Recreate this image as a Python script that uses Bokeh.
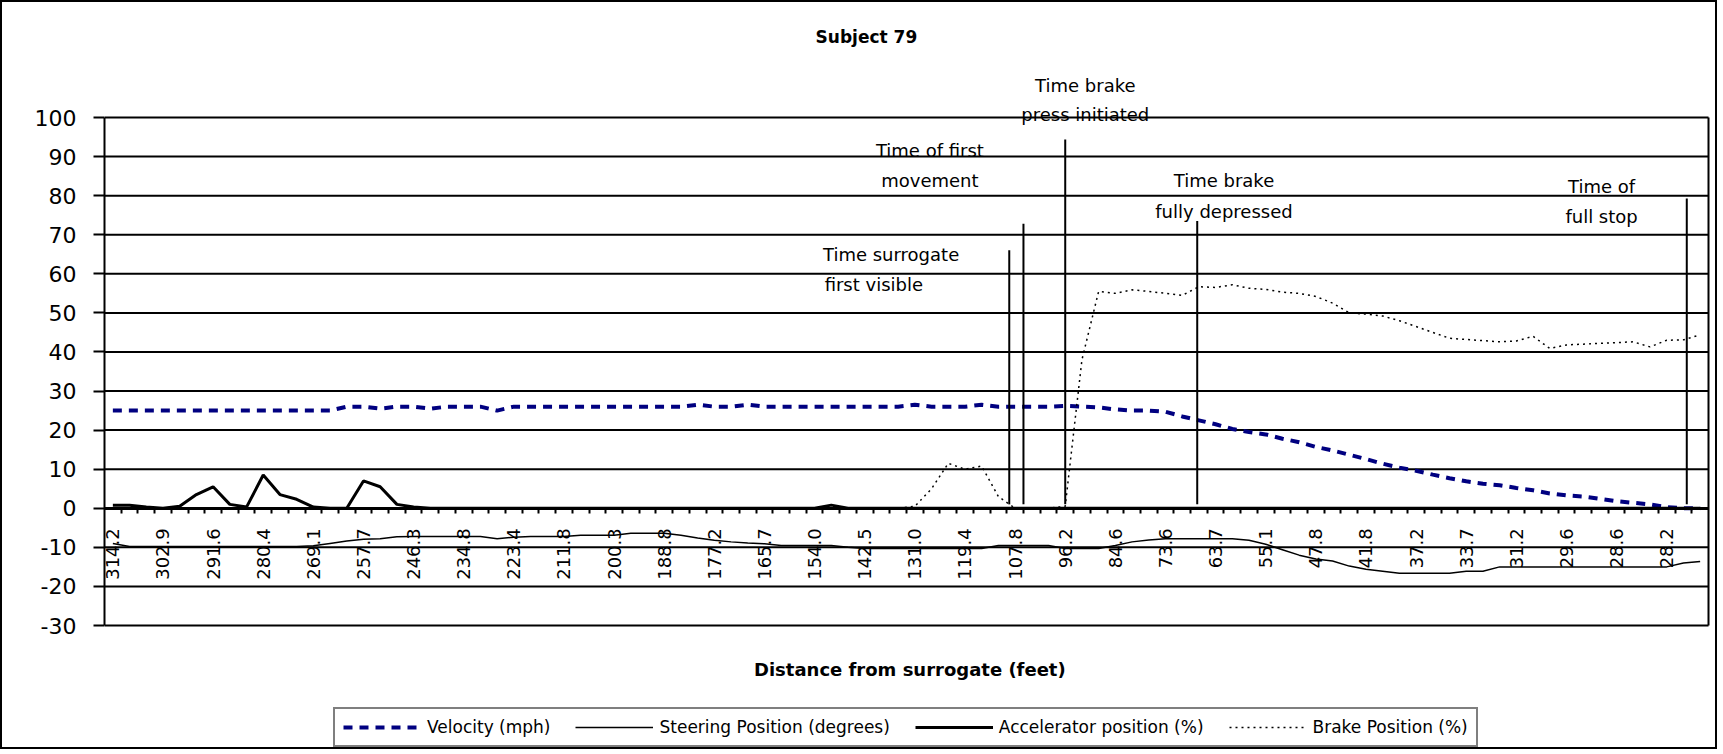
import math
import numpy as np
from bokeh.plotting import figure
from bokeh.models import (Range1d, LinearAxis, FixedTicker, Label, Legend,
                          LegendItem)
from bokeh.embed import file_html
from bokeh.resources import INLINE

FONT = "DejaVu Sans"

# ---------------- data ----------------
chart_title = "Subject 79"
x_title = "Distance from surrogate (feet)"

# distance labels shown on every third category
distance_labels = ["314.2", "302.9", "291.6", "280.4", "269.1", "257.7", "246.3",
                   "234.8", "223.4", "211.8", "200.3", "188.8", "177.2", "165.7",
                   "154.0", "142.5", "131.0", "119.4", "107.8", "96.2", "84.6",
                   "73.6", "63.7", "55.1", "47.8", "41.8", "37.2", "33.7", "31.2",
                   "29.6", "28.6", "28.2"]
label_every = 3

y_ticks = [-30, -20, -10, 0, 10, 20, 30, 40, 50, 60, 70, 80, 90, 100]

velocity = [25, 25, 25, 25, 25, 25, 25, 25, 25, 25,
            25, 25, 25, 25, 26, 26, 25.5, 26, 26, 25.5,
            26, 26, 26, 25, 26, 26, 26, 26, 26, 26,
            26, 26, 26, 26, 26, 26.5, 26, 26, 26.5, 26,
            26, 26, 26, 26, 26, 26, 26, 26, 26.5, 26,
            26, 26, 26.5, 26, 26, 26, 26, 26.2, 26, 25.8,
            25.3, 25, 25, 24.7, 23.5, 22.5, 21.5, 20.3, 19.5, 18.9,
            17.8, 16.9, 15.7, 14.8, 13.7, 12.6, 11.4, 10.4, 9.6, 8.6,
            7.7, 6.9, 6.3, 5.9, 5.2, 4.6, 3.8, 3.3, 3.0, 2.4,
            1.8, 1.4, 1.0, 0.3, 0, 0]

steering = [-9.0, -9.8, -9.8, -9.8, -9.8, -9.8, -9.8, -9.8, -9.8, -9.8,
            -9.8, -9.8, -9.6, -9.0, -8.4, -7.9, -7.8, -7.3, -7.2, -7.2,
            -7.2, -7.2, -7.2, -7.8, -7.4, -7.2, -7.2, -7.2, -6.9, -6.9,
            -6.9, -6.4, -6.4, -6.4, -6.9, -7.6, -8.2, -8.6, -8.9, -9.1,
            -9.5, -9.5, -9.5, -9.5, -10.0, -10.3, -10.3, -10.3, -10.3, -10.3,
            -10.3, -10.3, -10.3, -9.5, -9.5, -9.5, -9.5, -10.3, -10.3, -10.3,
            -9.5, -8.6, -8.1, -7.8, -7.8, -7.8, -7.8, -7.8, -8.2, -9.2,
            -10.6, -12.0, -13.0, -13.5, -14.8, -15.6, -16.1, -16.6, -16.6, -16.6,
            -16.6, -16.1, -16.1, -15.0, -15.0, -15.0, -15.0, -15.0, -15.0, -15.0,
            -15.0, -15.0, -15.0, -15.0, -14.0, -13.6]

accelerator = [0.8, 0.8, 0.3, 0, 0.5, 3.5, 5.5, 1.0, 0.3, 8.5,
               3.5, 2.3, 0.3, 0, 0, 7.0, 5.5, 1.0, 0.3, 0,
               0, 0, 0, 0, 0, 0, 0, 0, 0, 0,
               0, 0, 0, 0, 0, 0, 0, 0, 0, 0,
               0, 0, 0, 0.8, 0, 0, 0, 0, 0, 0,
               0, 0, 0, 0, 0, 0, 0, 0, 0, 0,
               0, 0, 0, 0, 0, 0, 0, 0, 0, 0,
               0, 0, 0, 0, 0, 0, 0, 0, 0, 0,
               0, 0, 0, 0, 0, 0, 0, 0, 0, 0,
               0, 0, 0, 0, 0, 0]

brake = [0, 0, 0, 0, 0, 0, 0, 0, 0, 0,
         0, 0, 0, 0, 0, 0, 0, 0, 0, 0,
         0, 0, 0, 0, 0, 0, 0, 0, 0, 0,
         0, 0, 0, 0, 0, 0, 0, 0, 0, 0,
         0, 0, 0, 0, 0, 0, 0, 0, 0.5, 5.0,
         11.5, 10.0, 10.8, 3.0, 0, 0, 0, 0.5, 38.0, 55.5,
         55.0, 55.9, 55.5, 55.0, 54.5, 56.7, 56.5, 57.2, 56.3, 56.0,
         55.3, 55.0, 54.2, 52.5, 50.0, 49.7, 49.2, 48.0, 46.5, 45.0,
         43.5, 43.2, 42.9, 42.6, 42.8, 44.0, 40.9, 41.8, 42.0, 42.2,
         42.4, 42.6, 41.3, 43.0, 43.1, 44.4]

series_names = ["Velocity (mph)", "Steering Position (degrees)",
                "Accelerator position (%)", "Brake Position (%)"]

# event marker lines (category position, top value)
event_x = [53.65, 54.5, 57.0, 64.9, 94.2]
event_top = [66.0, 72.8, 94.4, 73.5, 79.3]

# event annotations: (text, x, y, align)
event_texts = [
    ("Time brake", 58.2, 108.3, "center"),
    ("press initiated", 58.2, 100.8, "center"),
    ("Time of first", 48.9, 91.6, "center"),
    ("movement", 48.9, 84.0, "center"),
    ("Time surrogate", 42.5, 64.9, "left"),
    ("first visible", 42.6, 57.3, "left"),
    ("Time brake", 66.5, 84.0, "center"),
    ("fully depressed", 66.5, 76.0, "center"),
    ("Time of", 89.1, 82.3, "center"),
    ("full stop", 89.1, 74.6, "center"),
]

# ---------------- layout (pixels) ----------------
W, H = 1717, 749            # canvas size (a 2px border is added around it)
LEFT = 102                  # width of the y-axis panel
PLOT_L, PLOT_R = 104, 1708  # plot area on the page
PLOT_T, PLOT_B = 117, 625
CANVAS_X0, CANVAS_Y0 = 2, 2
LEGEND_X = 229              # legend offset from the plot area's left edge

n = len(velocity)
x = np.arange(n)
y_lo, y_hi = y_ticks[0], y_ticks[-1]
ppu_y = (PLOT_B - PLOT_T) / (y_hi - y_lo)
ppu_x = (PLOT_R - PLOT_L) / n
y_top = y_hi + (PLOT_T - CANVAS_Y0) / ppu_y
y_bot = y_lo - (CANVAS_Y0 + H - PLOT_B) / ppu_y
x_left = -0.5
x_right = -0.5 + (CANVAS_X0 + W - PLOT_L) / ppu_x

p = figure(width=W, height=H,
           x_range=Range1d(x_left, x_right), y_range=Range1d(y_bot, y_top),
           output_backend="svg", toolbar_location=None,
           x_axis_location=None, title=None,
           min_border_left=LEFT, min_border_right=0,
           min_border_top=0, min_border_bottom=0)
p.styles = {"border": "2px solid black"}
p.background_fill_color = "white"
p.border_fill_color = "white"
p.outline_line_color = None
p.xgrid.grid_line_color = None
p.ygrid.grid_line_color = None

# y axis (left panel), limited to the plot area
p.yaxis.ticker = FixedTicker(ticks=y_ticks)
p.yaxis.bounds = (y_lo, y_hi)
p.yaxis.major_label_overrides = {t: str(t) for t in y_ticks}
p.yaxis.axis_line_color = "black"
p.yaxis.axis_line_width = 2
p.yaxis.major_tick_out = 11
p.yaxis.major_tick_in = 0
p.yaxis.major_tick_line_width = 2
p.yaxis.minor_tick_out = 0
p.yaxis.minor_tick_in = 0
p.yaxis.major_label_standoff = 17
p.yaxis.major_label_text_font = FONT
p.yaxis.major_label_text_font_size = "22px"
p.yaxis.major_label_text_color = "black"

# horizontal grid lines and right border of the plot area
p.segment(x0=-0.5, x1=n - 0.5, y0=y_ticks, y1=y_ticks,
          line_color="black", line_width=2)
p.segment(x0=n - 0.5, x1=n - 0.5, y0=y_lo, y1=y_hi,
          line_color="black", line_width=2)

# x axis crossing at y = 0
label_pos = [i * label_every for i in range(len(distance_labels))]
boundaries = [i + 0.5 for i in range(n - 1)]
xaxis = LinearAxis(fixed_location=0, bounds=(-0.5, n - 0.5),
                   ticker=FixedTicker(ticks=label_pos, minor_ticks=boundaries),
                   major_label_overrides={pos: lab for pos, lab in zip(label_pos, distance_labels)},
                   major_label_orientation=math.pi / 2)
xaxis.axis_line_color = "black"
xaxis.axis_line_width = 3
xaxis.major_tick_out = 0
xaxis.major_tick_in = 0
xaxis.minor_tick_out = 5
xaxis.minor_tick_in = 0
xaxis.minor_tick_line_width = 2
xaxis.minor_tick_line_color = "black"
xaxis.major_label_standoff = 15
xaxis.major_label_text_font = FONT
xaxis.major_label_text_font_size = "18px"
xaxis.major_label_text_color = "black"
p.add_layout(xaxis, "below")

# series
r_vel = p.line(x, velocity, line_color="#000080", line_width=4, line_dash="9 7")
r_ste = p.line(x, steering, line_color="black", line_width=1.5)
r_acc = p.line(x, accelerator, line_color="black", line_width=3)
r_brk = p.line(x, brake, line_color="black", line_width=1.5, line_dash="2 4")

# event marker lines
p.segment(x0=event_x, y0=1.0, x1=event_x, y1=event_top,
          line_color="black", line_width=2)

for txt, tx, ty, al in event_texts:
    p.add_layout(Label(x=tx, y=ty, text=txt, text_font=FONT,
                       text_font_size="18px", text_align=al,
                       text_baseline="middle", text_color="black"))

p.add_layout(Label(x=45.1, y=120.7, text=chart_title, text_font=FONT,
                   text_font_size="17px", text_font_style="bold",
                   text_color="black",
                   text_align="center", text_baseline="middle"))
p.add_layout(Label(x=47.7, y=-41.3, text=x_title, text_font=FONT,
                   text_font_size="18px", text_font_style="bold",
                   text_color="black",
                   text_align="center", text_baseline="middle"))

legend = Legend(items=[LegendItem(label=series_names[0], renderers=[r_vel]),
                       LegendItem(label=series_names[1], renderers=[r_ste]),
                       LegendItem(label=series_names[2], renderers=[r_acc]),
                       LegendItem(label=series_names[3], renderers=[r_brk])],
                orientation="horizontal", location=(LEGEND_X, 4),
                border_line_color="black", border_line_width=2,
                padding=8, spacing=25, glyph_width=78, glyph_height=20,
                label_standoff=6, label_text_font=FONT,
                label_text_font_size="17px", label_text_color="black",
                margin=0,
                background_fill_color="white", background_fill_alpha=1)
p.add_layout(legend)

open("out.html", "w").write(file_html(p, INLINE))
